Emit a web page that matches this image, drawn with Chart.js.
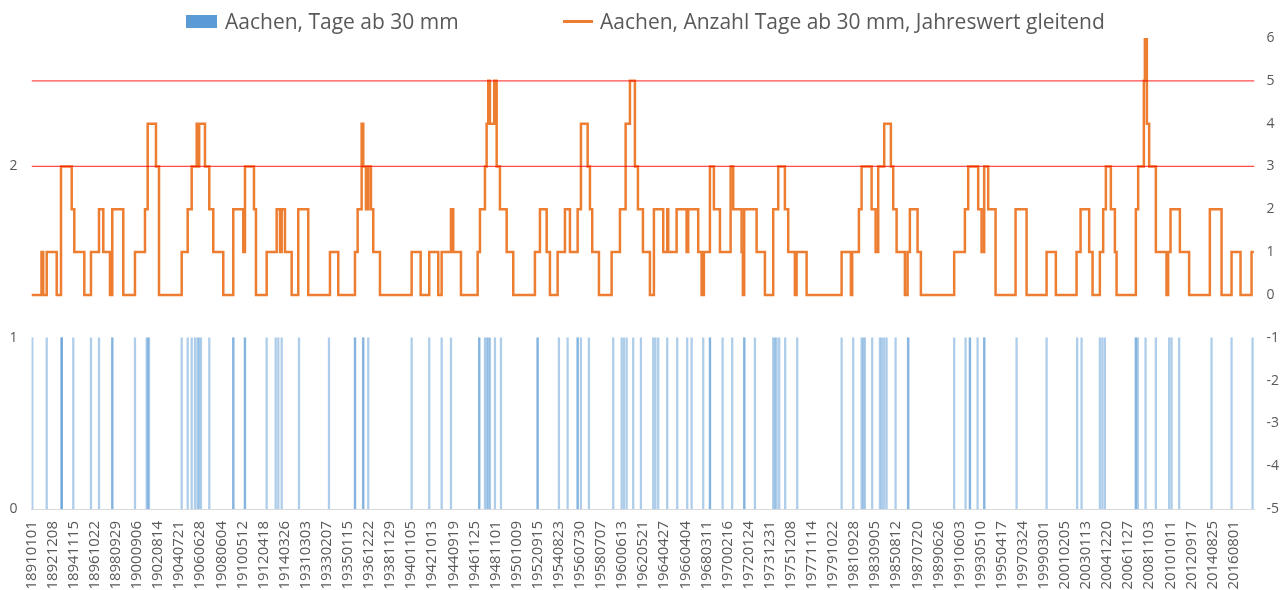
<!DOCTYPE html>
<html>
<head>
<meta charset="utf-8">
<title>Aachen, Tage ab 30 mm</title>
<script src="https://cdn.jsdelivr.net/npm/chart.js@4.4.1/dist/chart.umd.min.js"></script>
<style>
    html, body { margin: 0; padding: 0; background: #fff; }
    #wrap { position: relative; width: 1286px; height: 590px; }
    #legend { position: absolute; left: 0; top: 0; width: 1286px; height: 40px; font-family: "Open Sans", sans-serif; font-size: 21px; color: #595959; }
    #legend .item { position: absolute; top: 8px; height: 26px; line-height: 26px; white-space: nowrap; }
    #legend .swatch { display: inline-block; vertical-align: middle; }
</style>
</head>
<body>
<div id="wrap">
    <canvas id="chart" width="1286" height="590"></canvas>
    <div id="legend">
        <div class="item" style="left:186px"><span class="swatch" style="width:31px;height:13px;background:#5b9bd5;margin-right:8px;margin-top:-3px"></span>Aachen, Tage ab 30 mm</div>
        <div class="item" style="left:563px"><span class="swatch" style="width:30px;height:3px;background:#ed7d31;margin-right:7px;margin-top:-3px"></span>Aachen, Anzahl Tage ab 30 mm, Jahreswert gleitend</div>
    </div>
</div>
<script>
// DATA BEGIN

// every 707th row of the daily table is labelled
let tickLabels = ['18910101','18921208','18941115','18961022','18980929','19000906','19020814','19040721','19060628','19080604',
    '19100512','19120418','19140326','19310303','19330207','19350115','19361222','19381129','19401105','19421013',
    '19440919','19461125','19481101','19501009','19520915','19540823','19560730','19580707','19600613','19620521',
    '19640427','19660404','19680311','19700216','19720124','19731231','19751208','19771114','19791022','19810928',
    '19830905','19850812','19870720','19890626','19910603','19930510','19950417','19970324','19990301','20010205',
    '20030113','20041220','20061127','20081103','20101011','20120917','20140825','20160801'];
let tickStep = 707;
let dayCount = 41000;

// row numbers of the days with 30 mm or more
let eventDays = [27, 510, 1010, 1012, 1015, 1401, 1994, 2263, 2706, 2710, 3469, 3862, 3905, 3939, 5035, 5236, 5370, 5481, 5564, 5615,
    5682, 5960, 6760, 6770, 7150, 7160, 7884, 8186, 8273, 8387, 8967, 9972, 10840, 10850, 11115, 11125, 11290, 12744, 13334, 13750,
    14062, 15005, 15015, 15201, 15268, 15319, 15369, 15537, 15738, 16960, 16975, 17682, 17973, 18305, 18315, 18419, 18687, 19502, 19784, 19861,
    19951, 20172, 20430, 20843, 20917, 21010, 21312, 21647, 21982, 22130, 22519, 22740, 22750, 23169, 23491, 23890, 23900, 24252, 24865, 24922,
    24979, 25066, 25267, 25670, 27158, 27547, 27828, 27882, 27939, 28184, 28442, 28509, 28586, 28666, 28968, 29385, 29395, 30932, 31314, 31455,
    31465, 31717, 31935, 31945, 33024, 34030, 35055, 35203, 35816, 35900, 35984, 37018, 37028, 37090, 37348, 37693, 38139, 38220, 38474, 39560,
    40231, 40935];

// moving yearly count: row where a new value starts, and the value
let runDays = [0, 335, 392, 510, 845, 989, 1348, 1435, 1770, 1994, 2263, 2407, 2631, 2708, 3077, 3469, 3805, 3895, 4173, 4274,
    5035, 5236, 5370, 5538, 5601, 5621, 5816, 5960, 6094, 6429, 6764, 7100, 7157, 7458, 7525, 7884, 8219, 8330, 8387, 8497,
    8722, 8943, 9278, 10006, 10284, 10844, 10934, 11068, 11122, 11212, 11290, 11380, 11457, 11682, 12744, 13046, 13334, 13636, 13750, 14062,
    14139, 14397, 14957, 15034, 15201, 15258, 15312, 15369, 15513, 15594, 15704, 15929, 16150, 16877, 17045, 17270, 17380, 17638, 17883, 18051,
    18309, 18419, 18644, 18721, 18798, 19023, 19448, 19727, 19918, 20062, 20229, 20330, 20498, 20732, 20866, 21178, 21312, 21346, 21627, 21962,
    22016, 22351, 22465, 22542, 22743, 22877, 23079, 23437, 23524, 23806, 23849, 23893, 24309, 24587, 24865, 25033, 25257, 25368, 25592, 25649,
    25985, 27158, 27470, 27513, 27738, 27828, 28164, 28298, 28385, 28586, 28810, 28888, 29002, 29280, 29370, 29447, 29705, 29816, 30932, 31291,
    31402, 31737, 31851, 31938, 32072, 32320, 32990, 33359, 34030, 34341, 35035, 35169, 35457, 35571, 35816, 35927, 36017, 36185, 36319, 36376,
    37023, 37100, 37291, 37325, 37392, 37469, 37693, 38050, 38104, 38184, 38498, 38809, 39503, 39896, 40231, 40532, 40901, 40979];
let runValues = [0, 1, 0, 1, 0, 3, 2, 1, 0, 1, 2, 1, 0, 2, 0, 1, 2, 4, 3, 0,
    1, 2, 3, 4, 3, 4, 3, 2, 1, 0, 2, 1, 3, 2, 0, 1, 2, 1, 2, 1,
    0, 2, 0, 1, 0, 1, 2, 4, 3, 2, 3, 2, 1, 0, 1, 0, 1, 0, 1, 2,
    1, 0, 1, 2, 3, 4, 5, 4, 5, 3, 2, 1, 0, 1, 2, 1, 0, 1, 2, 1,
    2, 4, 3, 2, 1, 0, 1, 2, 4, 5, 3, 2, 1, 0, 2, 1, 2, 1, 2, 1,
    2, 1, 0, 1, 3, 2, 1, 3, 2, 1, 0, 2, 1, 0, 2, 3, 2, 1, 0, 1,
    0, 1, 0, 1, 2, 3, 2, 1, 3, 4, 3, 2, 1, 0, 1, 2, 1, 0, 1, 2,
    3, 2, 1, 3, 2, 0, 2, 0, 1, 0, 1, 2, 1, 0, 1, 2, 3, 2, 1, 0,
    2, 3, 5, 6, 4, 3, 1, 0, 1, 2, 1, 0, 2, 0, 1, 0, 1, 1];

// red marker lines on the right axis
let redLevels = [5, 3];

// DATA END

let fontFamily = '"Open Sans", sans-serif';
let textColor = '#595959';

let barData = eventDays.map(function (d)
{
    return {x: d, y: 1};
});

let runData = runDays.map(function (d, i)
{
    return {x: d, y: runValues[i]};
});

let datasets =
[{
    type: 'line',
    label: 'Aachen, Anzahl Tage ab 30 mm, Jahreswert gleitend',
    data: runData,
    yAxisID: 'y1',
    borderColor: '#ed7d31',
    borderWidth: 2.5,
    pointRadius: 0,
    stepped: true,
    order: 1
},
{
    type: 'bar',
    label: 'Aachen, Tage ab 30 mm',
    data: barData,
    yAxisID: 'y',
    backgroundColor: 'rgba(91,155,213,0.5)',
    barThickness: 1.6,
    order: 2
}];

redLevels.forEach(function (level)
{
    datasets.push(
    {
        type: 'line',
        label: 'Grenze ' + level,
        data: [{x: 0, y: level}, {x: dayCount, y: level}],
        yAxisID: 'y1',
        borderColor: 'rgba(255,0,0,0.7)',
        borderWidth: 1.3,
        pointRadius: 0,
        order: 0
    });
});

let ctx = document.getElementById('chart').getContext('2d');

new Chart(ctx,
{
    data: { datasets: datasets },
    options:
    {
        responsive: false,
        animation: false,
        events: [],
        layout: { padding: { top: 38, left: 0, right: 0, bottom: 0 } },
        plugins:
        {
            legend: { display: false },
            tooltip: { enabled: false }
        },
        scales:
        {
            x:
            {
                type: 'linear',
                offset: false,
                min: 0,
                max: dayCount,
                afterBuildTicks: function (scale)
                {
                    scale.ticks = tickLabels.map(function (label, k)
                    {
                        return {value: k * tickStep};
                    });
                },
                afterFit: function (scale)
                {
                    scale.height = 81;
                    scale.paddingLeft = 0;
                    scale.paddingRight = 0;
                },
                ticks:
                {
                    autoSkip: false,
                    minRotation: 90,
                    maxRotation: 90,
                    padding: 4,
                    color: textColor,
                    font: { family: fontFamily, size: 15 },
                    callback: function (value, index)
                    {
                        return tickLabels[index];
                    }
                },
                grid: { display: false, offset: false },
                border: { display: true, color: '#d9d9d9', width: 1 }
            },
            y:
            {
                position: 'left',
                min: 0,
                max: 2.75,
                afterBuildTicks: function (scale)
                {
                    scale.ticks = scale.ticks.filter(function (t) { return Number.isInteger(t.value); });
                },
                afterFit: function (scale)
                {
                    scale.width = 31.5;
                },
                ticks:
                {
                    stepSize: 1,
                    padding: 14,
                    color: textColor,
                    font: { family: fontFamily, size: 14 }
                },
                grid: { display: false, drawTicks: false },
                border: { display: false }
            },
            y1:
            {
                position: 'right',
                min: -5,
                max: 6,
                afterFit: function (scale)
                {
                    scale.width = 31.5;
                },
                ticks:
                {
                    stepSize: 1,
                    padding: 12,
                    color: textColor,
                    font: { family: fontFamily, size: 14 }
                },
                grid: { display: false, drawTicks: false },
                border: { display: false }
            }
        }
    }
});
</script>
</body>
</html>
